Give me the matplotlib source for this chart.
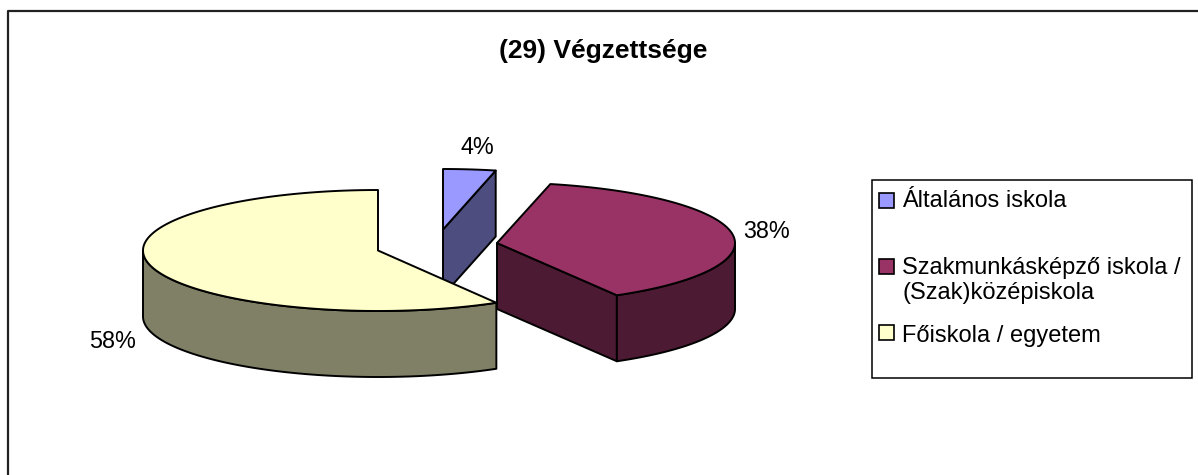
import numpy as np
import matplotlib
matplotlib.use('Agg')
import matplotlib.pyplot as plt
from matplotlib.patches import Polygon, Rectangle

plt.rcParams['font.family'] = ['Liberation Sans', 'DejaVu Sans']

title = '(29) Végzettsége'
categories = ['Általános iskola',
              'Szakmunkásképző iskola /\n(Szak)középiskola',
              'Főiskola / egyetem']
values = [3.6, 38.0, 58.4]
top_colors = ['#9999FF', '#993366', '#FFFFCC']
side_colors = ['#4D4D80', '#4D1A33', '#808066']

# pie geometry in image pixels
radii_x = [235, 238, 235]
ry, depth = 60.5, 66
centers = [(443, 229.5), (497, 243), (378, 250.5)]
label_pos = [(477, 147), (767, 232), (113, 342)]
legend_y = [201, 280.5, 336]
swatch_y = [193, 259, 325]

fig = plt.figure(figsize=(11.98, 4.75), dpi=100)
ax = fig.add_axes([0, 0, 1, 1])
ax.set_xlim(0, 1198)
ax.set_ylim(475, 0)
ax.axis('off')

lw = 1.4


def rim(cx, cy, rx, a0, a1):
    # angles run clockwise from the top of the pie
    t = np.radians(np.linspace(a0, a1, 200))
    return np.column_stack([cx + rx * np.sin(t), cy - ry * np.cos(t)])


def face(pts, color, z):
    ax.add_patch(Polygon(pts, closed=True, fc=color, ec='black', lw=lw, zorder=z, joinstyle='round'))


edges = np.cumsum([0] + values) * 3.6

for i in range(3):
    cx, cy = centers[i]
    rx = radii_x[i]
    a0, a1 = edges[i], edges[i + 1]
    z = 2 + i * 2
    arc = rim(cx, cy, rx, a0, a1)
    down = np.array([0, depth])

    if i == 0:
        # only the cut face shows on the small slice
        end = arc[-1]
        face([(cx, cy), end, end + down, (cx, cy + depth)], side_colors[i], z)
    if i == 1:
        # cut face in front, then the outer wall up to the right edge
        start = arc[-1]
        face([(cx, cy), start, start + down, (cx, cy + depth)], side_colors[i], z)
        wall = rim(cx, cy, rx, 90, a1)
        face(np.vstack([wall, (wall + down)[::-1]]), side_colors[i], z)
    if i == 2:
        wall = rim(cx, cy, rx, a0, 270)
        face(np.vstack([wall, (wall + down)[::-1]]), side_colors[i], z)

    face(np.vstack([[(cx, cy)], arc]), top_colors[i], z + 1)

    ax.text(label_pos[i][0], label_pos[i][1], '%d%%' % round(values[i]),
            fontsize=16.8, ha='center', va='center', zorder=10)

ax.text(603, 51, title, fontsize=19, fontweight='bold', ha='center', va='center')

# legend box
ax.add_patch(Rectangle((872, 180), 320, 198, fc='white', ec='black', lw=1.1, zorder=1))
for i in range(3):
    ax.add_patch(Rectangle((879, swatch_y[i]), 14.5, 14.5, fc=top_colors[i], ec='black', lw=1.2, zorder=2))
    ax.text(902, legend_y[i], categories[i], fontsize=17, ha='left', va='center',
            linespacing=1.15, zorder=2)

# chart frame, cut off at the bottom and right of the image
ax.plot([8, 8, 1198], [475, 10.5, 10.5], color='#222222', lw=1.6, zorder=1)

fig.savefig('out.png', dpi=100)
